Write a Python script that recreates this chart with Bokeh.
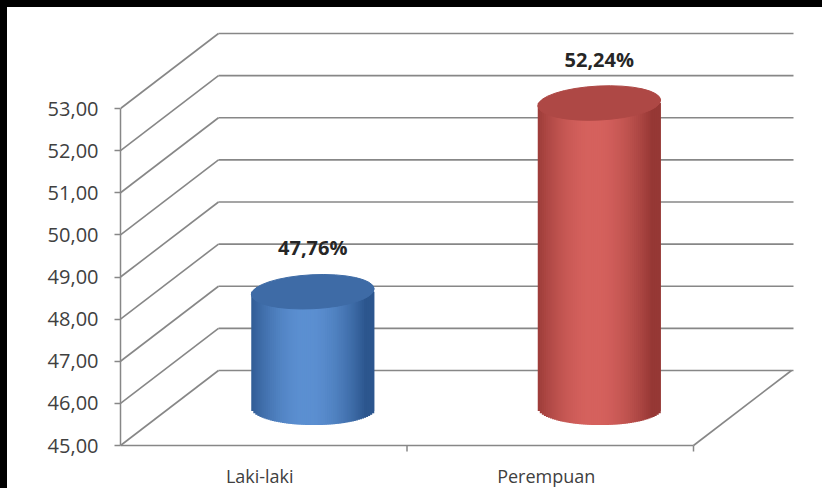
import numpy as np
from bokeh.plotting import figure
from bokeh.models import FixedTicker, ColumnDataSource
from bokeh.core.properties import value
from bokeh.embed import file_html
from bokeh.resources import INLINE

# ---------------- data ----------------
categories = ["Laki-laki", "Perempuan"]
percentages = [47.76, 52.24]
value_labels = ["47,76%", "52,24%"]
y_ticks = [45, 46, 47, 48, 49, 50, 51, 52, 53]
y_tick_labels = ["45,00", "46,00", "47,00", "48,00", "49,00", "50,00", "51,00", "52,00", "53,00"]
body_dark = [(44, 86, 142), (150, 56, 53)]
body_light = [(92, 144, 210), (214, 98, 94)]
top_colors = ["#3e6ba6", "#ae4845"]

# ---------------- geometry (styling) ----------------
Y_BASE = y_ticks[0]
Y_TOP = y_ticks[-1]
PX_X = 286.5           # pixels per category unit
PX_Y = 42.125          # pixels per value unit
DEPTH_X = 98 / PX_X    # 3D depth offset
DEPTH_Y = 75 / PX_Y
X_BACK_END = 673 / PX_X
CYL_A = 61.5 / PX_X    # half width of cylinder
CYL_B = 17 / PX_Y      # half height of ellipse

BORDER = 7
W, H = 822, 488
LEFT = 120 - BORDER
x_end = (W - LEFT) / PX_X
y_start = Y_BASE - (H + BORDER - 445) / PX_Y
y_end = Y_TOP + (108 - BORDER) / PX_Y

p = figure(width=W, height=H, output_backend="svg", toolbar_location=None,
           x_range=(0, x_end), y_range=(y_start, y_end),
           min_border_left=LEFT, min_border_right=0, min_border_top=0, min_border_bottom=0,
           x_axis_location=None)
p.styles = {"border-left": "%dpx solid black" % BORDER,
            "border-top": "%dpx solid black" % BORDER}
p.xgrid.visible = False
p.ygrid.visible = False
p.outline_line_color = None
p.background_fill_color = "white"
p.border_fill_color = "white"

GRID = "#878787"
AXIS = "#878787"

# y axis
ax = p.yaxis[0]
ax.ticker = FixedTicker(ticks=y_ticks)
ax.major_label_overrides = {t: l for t, l in zip(y_ticks, y_tick_labels)}
ax.bounds = (Y_BASE, Y_TOP)
ax.axis_line_color = AXIS
ax.axis_line_width = 1.5
ax.major_tick_line_color = AXIS
ax.major_tick_line_width = 1.5
ax.major_tick_out = 6
ax.major_tick_in = 0
ax.minor_tick_line_color = None
ax.major_label_standoff = 16
ax.major_label_text_font = "Open Sans"
ax.major_label_text_font_size = "20px"
ax.major_label_text_color = "#404040"

# back-wall gridlines (diagonal + horizontal)
n = len(y_ticks)
p.segment(x0=[0] * n, y0=y_ticks, x1=[DEPTH_X] * n, y1=[t + DEPTH_Y for t in y_ticks],
          line_color=GRID, line_width=1.6)
p.segment(x0=[DEPTH_X] * n, y0=[t + DEPTH_Y for t in y_ticks],
          x1=[X_BACK_END] * n, y1=[t + DEPTH_Y for t in y_ticks],
          line_color=GRID, line_width=1.6)

# floor front edge and right diagonal
ncat = len(categories)
p.segment(x0=[0, ncat], y0=[Y_BASE, Y_BASE], x1=[ncat, ncat + DEPTH_X], y1=[Y_BASE, Y_BASE + DEPTH_Y],
          line_color=AXIS, line_width=1.6)
# category boundary ticks
p.segment(x0=list(range(1, ncat + 1)), y0=[Y_BASE] * ncat,
          x1=list(range(1, ncat + 1)), y1=[Y_BASE - 6 / PX_Y] * ncat,
          line_color=AXIS, line_width=1.5)

# cylinders
NSTRIP = 60
for i, (cat, v) in enumerate(zip(categories, percentages)):
    cx = i + 0.5 + DEPTH_X / 2
    cy_top = v + DEPTH_Y / 2
    cy_bot = Y_BASE + DEPTH_Y / 2
    edges = np.linspace(-1, 1, NSTRIP + 1)
    step = edges[1] - edges[0]
    lefts = cx + edges[:-1] * CYL_A
    rights = cx + np.minimum(edges[1:] + step, 1.0) * CYL_A
    mids = (edges[:-1] + edges[1:]) / 2
    bottoms = cy_bot - CYL_B * np.sqrt(np.clip(1 - mids ** 2, 0, 1))
    t = (mids + 1) / 2
    s = np.clip(np.cos(np.pi * (t - 0.45) * 1.05), 0, 1) ** 0.9
    d = np.array(body_dark[i]); l = np.array(body_light[i])
    cols = ["#%02x%02x%02x" % tuple(int(c) for c in (d + (l - d) * si)) for si in s]
    src = ColumnDataSource(dict(left=lefts, right=rights, top=[cy_top] * NSTRIP,
                                bottom=bottoms, color=cols))
    p.quad(left="left", right="right", top="top", bottom="bottom", source=src,
           fill_color="color", line_color=None)
    p.ellipse(x=[cx], y=[cy_top], width=[2 * CYL_A], height=[2 * CYL_B], angle=0.05,
              fill_color=top_colors[i], line_color=top_colors[i], line_width=1)

# data labels
lab_src = ColumnDataSource(dict(x=[i + 0.5 + DEPTH_X / 2 for i in range(ncat)],
                                y=[v + DEPTH_Y / 2 for v in percentages],
                                text=value_labels))
p.text(x="x", y="y", text="text", source=lab_src, y_offset=-44,
       text_align="center", text_baseline="middle",
       text_font=value("Open Sans"), text_font_style="bold",
       text_font_size="20px", text_color="#262626")

# category labels
cat_src = ColumnDataSource(dict(x=[i + 0.5 for i in range(ncat)], y=[Y_BASE] * ncat, text=categories))
p.text(x="x", y="y", text="text", source=cat_src, x_offset=-4, y_offset=30,
       text_align="center", text_baseline="middle",
       text_font=value("Open Sans"), text_font_size="18px", text_color="#404040")

open("out.html", "w").write(file_html(p, INLINE))
